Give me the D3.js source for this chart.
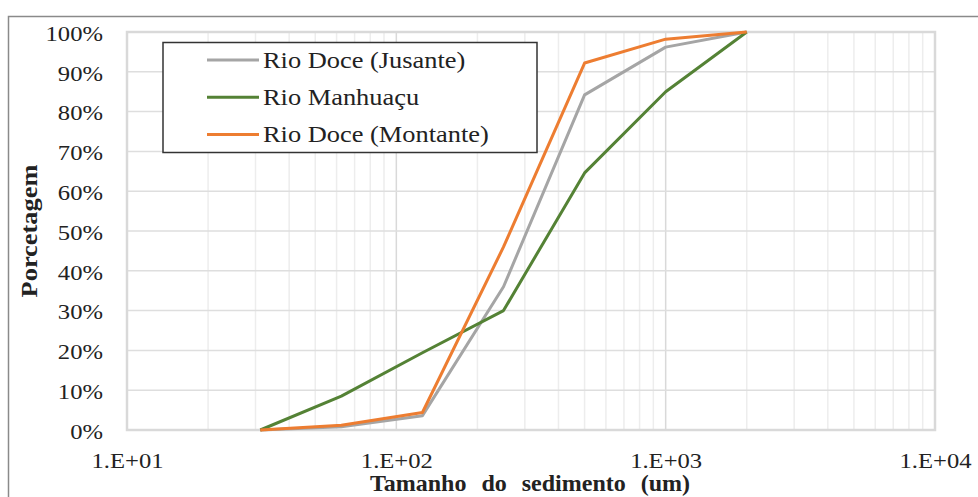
<!DOCTYPE html>
<html>
<head>
<meta charset="utf-8">
<script src="https://cdn.jsdelivr.net/npm/d3@7"></script>
<style>
  body { margin: 0; background: #fff; }
  svg text { font-family: "Liberation Serif", "Times New Roman", serif; fill: #222; }
</style>
</head>
<body>
<div id="container"></div>
<script>
let w = 978;
let h = 497;

// data
let sizes = [31.25, 62.5, 125, 250, 500, 1000, 2000];
let jusante = [0, 0.8, 3.6, 36, 84.2, 96.2, 100];
let manhuacu = [0, 8.5, 19.4, 30, 64.6, 85, 100];
let montante = [0, 1.2, 4.4, 46, 92.2, 98.2, 100];
let seriesNames = ["Rio Doce (Jusante)", "Rio Manhuaçu", "Rio Doce (Montante)"];
let seriesColors = ["#a5a5a5", "#548235", "#ed7d31"];
let xTicks = [10, 100, 1000, 10000];
let yTicks = [0, 10, 20, 30, 40, 50, 60, 70, 80, 90, 100];

let series = [jusante, manhuacu, montante].map((vals, i) => ({
  name: seriesNames[i],
  color: seriesColors[i],
  points: sizes.map((s, j) => ({x: s, y: vals[j]}))
}));

let pLeft = 127, pRight = 935, pTop = 32, pBottom = 430;
let stretch = "scale(1.12,1)"; // the picture's text is a bit wide

let viz = d3.select("#container").append("svg")
    .attr("width", w)
    .attr("height", h);

// chart border (cropped)
viz.append("path")
    .attr("d", `M8.5,${h} V16.5 H${w}`)
    .attr("fill", "none")
    .attr("stroke", "#8a8a8a")
    .attr("stroke-width", 1.5);

let x = d3.scaleLog().domain([10, 10000]).range([pLeft, pRight]);
let y = d3.scaleLinear().domain([0, 100]).range([pBottom, pTop]);

// minor vertical grid
let minor = [];
for (let d = 10; d < 10000; d *= 10) {
  for (let k = 2; k <= 9; k++) minor.push(d * k);
}
viz.append("g").selectAll("line").data(minor).enter().append("line")
    .attr("x1", d => x(d)).attr("x2", d => x(d))
    .attr("y1", pTop).attr("y2", pBottom)
    .attr("stroke", "#ededed").attr("stroke-width", 1.5);

// major vertical grid
viz.append("g").selectAll("line").data(xTicks).enter().append("line")
    .attr("x1", d => x(d)).attr("x2", d => x(d))
    .attr("y1", pTop).attr("y2", pBottom)
    .attr("stroke", "#d9d9d9").attr("stroke-width", 1.5);

// horizontal grid
viz.append("g").selectAll("line").data(yTicks).enter().append("line")
    .attr("x1", pLeft).attr("x2", pRight)
    .attr("y1", d => y(d)).attr("y2", d => y(d))
    .attr("stroke", "#dedede").attr("stroke-width", 1.5);

// plot area border
viz.append("rect")
    .attr("x", pLeft).attr("y", pTop)
    .attr("width", pRight - pLeft).attr("height", pBottom - pTop)
    .attr("fill", "none").attr("stroke", "#d9d9d9").attr("stroke-width", 2.5);

// axes
let yAxis = viz.append("g")
    .attr("transform", `translate(${pLeft - 24},0)`)
    .call(d3.axisLeft(y).tickValues(yTicks).tickSize(0).tickPadding(0).tickFormat(d => d + "%"));
yAxis.select(".domain").remove();
yAxis.selectAll("text")
    .style("font-size", "22px").attr("font-family", null).attr("fill", "#222")
    .attr("dy", "0.38em")
    .attr("transform", stretch);

let xAxis = viz.append("g")
    .attr("transform", `translate(0,${pBottom + 22})`)
    .call(d3.axisBottom(x).tickValues(xTicks).tickSize(0).tickPadding(0)
      .tickFormat(d => "1.E+" + String(Math.round(Math.log10(d))).padStart(2, "0")));
xAxis.select(".domain").remove();
xAxis.selectAll("text")
    .style("font-size", "22px").attr("font-family", null).attr("fill", "#222")
    .attr("transform", stretch);

// axis titles
viz.append("text")
    .attr("x", 530).attr("y", 491)
    .attr("text-anchor", "middle")
    .style("font-size", "24px").style("font-weight", "bold")
    .style("word-spacing", "9px")
    .text("Tamanho do sedimento (um)");

viz.append("text")
    .attr("transform", "translate(37,231) rotate(-90) scale(1.1,1)")
    .attr("text-anchor", "middle")
    .style("font-size", "24px").style("font-weight", "bold")
    .text("Porcetagem");

// lines
let line = d3.line().x(d => x(d.x)).y(d => y(d.y));
viz.append("g").selectAll("path").data(series).enter().append("path")
    .attr("d", d => line(d.points))
    .attr("fill", "none")
    .attr("stroke", d => d.color)
    .attr("stroke-width", 3)
    .attr("stroke-linejoin", "round");

// legend
let legend = viz.append("g");
legend.append("rect")
    .attr("x", 163).attr("y", 42.5)
    .attr("width", 374).attr("height", 110)
    .attr("fill", "#fff").attr("stroke", "#333").attr("stroke-width", 1.5);
let items = legend.selectAll(".item").data(series).enter().append("g")
    .attr("class", "item")
    .attr("transform", (d, i) => `translate(0,${60 + i * 37.2})`);
items.append("line")
    .attr("x1", 207).attr("x2", 259)
    .attr("stroke", d => d.color).attr("stroke-width", 3);
items.append("text")
    .attr("transform", "translate(263,8) scale(1.1,1)")
    .style("font-size", "24px")
    .text(d => d.name);
</script>
</body>
</html>
